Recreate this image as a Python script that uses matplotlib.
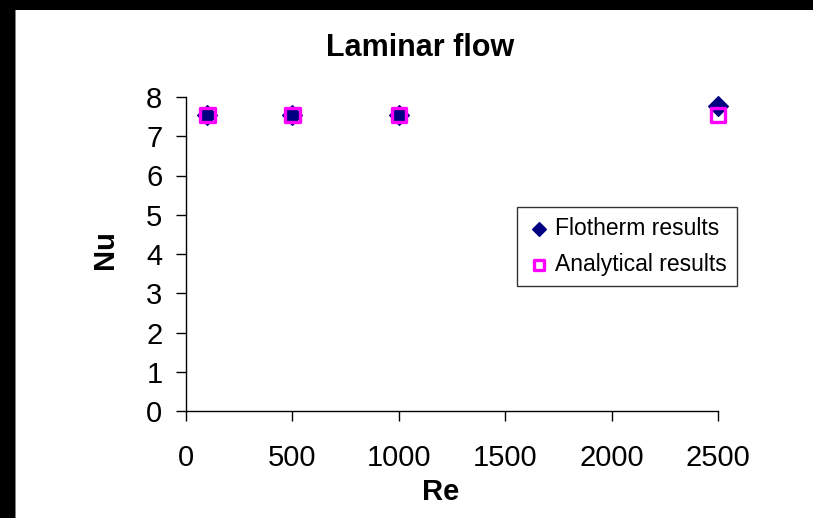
"""
plot.py

Laminar flow: Nusselt number vs Reynolds number.
"""

import matplotlib
matplotlib.use("Agg")
import matplotlib.pyplot as plt
from matplotlib.patches import Rectangle


# ==========================================================
# Data
# ==========================================================

re_values = [100, 500, 1000, 2500]
nu_flotherm = [7.55, 7.55, 7.55, 7.77]
nu_analytical = [7.54, 7.54, 7.54, 7.54]

x_ticks = [0, 500, 1000, 1500, 2000, 2500]
y_ticks = [0, 1, 2, 3, 4, 5, 6, 7, 8]


# ==========================================================
# Figure
# ==========================================================

plt.rcParams["font.family"] = ["Liberation Sans", "DejaVu Sans"]

W, H = 813, 518
fig = plt.figure(figsize=(W / 100, H / 100), dpi=100)
fig.patch.set_facecolor("white")

# black frame on the left and top edges of the screenshot
fig.patches.append(Rectangle((0, 0), 15 / W, 1, transform=fig.transFigure,
                             facecolor="black", edgecolor="none", zorder=0))
fig.patches.append(Rectangle((0, 1 - 10 / H), 1, 10 / H, transform=fig.transFigure,
                             facecolor="black", edgecolor="none", zorder=0))
fig.patches.append(Rectangle((15 / W, 0), 1.2 / W, 1 - 10 / H, transform=fig.transFigure,
                             facecolor="#808080", edgecolor="none", zorder=0))

ax = fig.add_axes([186 / W, 107 / H, 532 / W, 314 / H])

ax.scatter(
    re_values,
    nu_flotherm,
    marker="D",
    s=10 ** 2,
    color="#000080",
    label="Flotherm results",
    zorder=3,
    clip_on=False
)

ax.scatter(
    re_values,
    nu_analytical,
    marker="s",
    s=10.5 ** 2,
    facecolor="none",
    edgecolor="#FF00FF",
    linewidths=2.4,
    label="Analytical results",
    zorder=4,
    clip_on=False
)

ax.set_xlim(0, 2500)
ax.set_ylim(0, 8)
ax.set_xticks(x_ticks)
ax.set_yticks(y_ticks)

ax.spines["top"].set_visible(False)
ax.spines["right"].set_visible(False)
for side in ("left", "bottom"):
    ax.spines[side].set_linewidth(1.0)

ax.tick_params(axis="x", direction="out", length=7, width=1.0, pad=17, labelsize=21)
ax.tick_params(axis="y", direction="out", length=7, width=1.0, pad=10, labelsize=21)

fig.text(420 / W, 1 - 48 / H, "Laminar flow", ha="center", va="center",
         fontsize=22, weight="bold")
fig.text(105 / W, 1 - 250 / H, "Nu", ha="center", va="center",
         rotation=90, fontsize=21, weight="bold")
fig.text(441 / W, 1 - 492 / H, "Re", ha="center", va="center",
         fontsize=21, weight="bold")

leg = ax.legend(
    loc="upper left",
    bbox_to_anchor=(517 / W, 1 - 207 / H),
    bbox_transform=fig.transFigure,
    borderaxespad=0,
    fontsize=16.5,
    frameon=True,
    fancybox=False,
    handletextpad=0.2,
    handlelength=1.0,
    borderpad=0.45,
    labelspacing=0.55,
    scatterpoints=1,
    markerscale=0.7
)
leg.get_frame().set_edgecolor("black")
leg.get_frame().set_linewidth(1.0)

fig.savefig("out.png", dpi=100)
plt.close(fig)
